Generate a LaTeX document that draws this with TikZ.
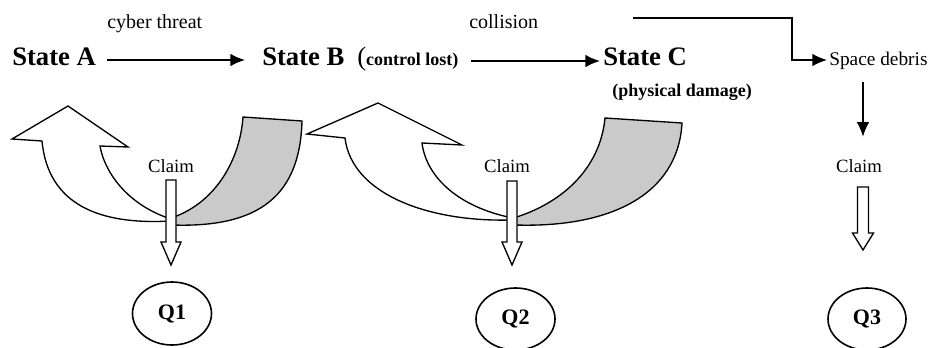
\documentclass[tikz,border=0pt]{standalone}
\usepackage{fontspec}
\setmainfont{Liberation Serif}
\usetikzlibrary{arrows.meta,shapes.geometric}
\definecolor{bandgray}{RGB}{202,202,202}
\begin{document}
\begin{tikzpicture}[x=0.75pt,y=-0.75pt,
  statelbl/.style={inner sep=0pt, anchor=base west, font=\bfseries\fontsize{20}{24}\selectfont},
  eventlbl/.style={inner sep=0pt, anchor=base west, font=\fontsize{15}{18}\selectfont},
  notelbl/.style={inner sep=0pt, anchor=base west, font=\bfseries\fontsize{13.5}{16}\selectfont},
  plainlbl/.style={inner sep=0pt, font=\fontsize{14}{17}\selectfont},
  conn/.style={line width=1.3pt, -{Latex[length=11pt,width=9.5pt]}},
  outcome/.style={ellipse, draw, line width=1.2pt, inner sep=0pt, font=\bfseries\fontsize{16.5}{19}\selectfont},
  whitearrow/.style={draw, fill=white, line width=1pt, line join=miter},
  backband/.style={draw, fill=bandgray, line width=1pt, line join=miter},
  hollow/.style={draw, fill=white, line width=1pt, line join=miter},
]
\useasboundingbox (0,0) rectangle (932,347);

% ---- states and events ----
\node[eventlbl] (cyber) at (107,28) {cyber threat};
\node[eventlbl] (coll) at (469,28) {collision};
\node[statelbl] (stateA) at (12,65) {State A};
\node[statelbl] (stateB) at (262,65) {State B};
\node[notelbl] (ctl) at (357,65) {{\mdseries\fontsize{20}{24}\selectfont(}control lost)};
\node[statelbl] (stateC) at (603,65) {State C};
\node[notelbl] (phys) at (612,96) {(physical damage)};
\node[plainlbl, anchor=base west, font=\fontsize{14.5}{17}\selectfont] (debris) at (829,65) {Space debris};

\draw[conn] ([xshift=8.25pt,yshift=3.75pt]stateA.base east) -- ([xshift=-12.75pt,yshift=3.75pt]stateB.base west);
\draw[conn] ([xshift=9pt,yshift=3pt]ctl.base east) -- ([xshift=-2.25pt,yshift=3pt]stateC.base west);

\coordinate (cstart) at (633,18);
\coordinate (cturn) at (792,18);
\draw[conn, line width=1.2pt] (cstart) -- (cturn) |- ([xshift=-1.5pt,yshift=3.75pt]debris.base west);

% ---- claim labels ----
\node[plainlbl, anchor=base] (claim1) at (171,172) {Claim};
\node[plainlbl, anchor=base] (claim2) at (507,172) {Claim};
\node[plainlbl, anchor=base] (claim3) at (859,172) {Claim};

\coordinate (h3) at (863,187);
\draw[conn, shorten <=9.75pt, shorten >=16.5pt] (debris.south -| h3) -- (claim3.north -| h3);

% ---- first curved arrow ----
\path[whitearrow] (68,106) -- (128,147) -- (100,146)
  .. controls (104,170) and (125,203) .. (168,218)
  -- (170,221)
  .. controls (100,225) and (48,205) .. (42,141)
  -- (12,139) -- cycle;
\path[backband] (243,117) -- (302,121)
  .. controls (300,195) and (260,228) .. (172,225)
  -- (168,219)
  .. controls (215,205) and (240,160) .. (243,117) -- cycle;

% ---- second curved arrow ----
\path[whitearrow] (378,103) -- (462,145) -- (422,143)
  .. controls (426,175) and (455,205) .. (508,217)
  -- (510,220)
  .. controls (430,222) and (352,195) .. (345,138)
  -- (307,134) -- cycle;
\path[backband] (605,118) -- (682,123)
  .. controls (678,195) and (610,228) .. (515,225)
  -- (510,219)
  .. controls (560,205) and (600,170) .. (605,118) -- cycle;

% ---- hollow claim arrows ----
\path[hollow] (166,180) -- (176,180) -- (176,242) -- (181,242) -- (171,265) -- (161,242) -- (166,242) -- cycle;
\path[hollow] (507,181) -- (517,181) -- (517,242) -- (522,242) -- (512,265) -- (502,242) -- (507,242) -- cycle;
\path[hollow] (857.5,187) -- (868.5,187) -- (868.5,233) -- (873.5,233) -- (863,250) -- (852.5,233) -- (857.5,233) -- cycle;

% ---- outcomes ----
\node[outcome, minimum width=59.25pt, minimum height=47.25pt] (q1) at (172,313.5) {Q1};
\node[outcome, minimum width=59.25pt, minimum height=46.5pt] (q2) at (515.5,319) {Q2};
\node[outcome, minimum width=58.5pt, minimum height=46.5pt] (q3) at (867,319) {Q3};
\end{tikzpicture}
\end{document}
